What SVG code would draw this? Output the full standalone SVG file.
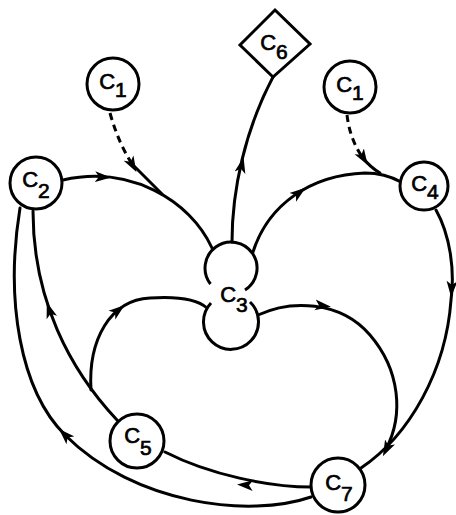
<svg xmlns="http://www.w3.org/2000/svg" width="456" height="515" viewBox="0 0 456 515">
<style>
.ln{fill:none;stroke:#000;stroke-width:3;stroke-linecap:round}
.dash{fill:none;stroke:#000;stroke-width:3;stroke-dasharray:7 5}
.ah{fill:none;stroke:none;marker-end:url(#arr)}
.nd{fill:#fff;stroke:#000;stroke-width:3}
.arc{fill:none;stroke:#000;stroke-width:3}
.lb{font-family:"Liberation Sans",Arial,sans-serif;font-size:22px;fill:#000;stroke:#000;stroke-width:0.7;text-anchor:middle}
.sub{font-size:21px}
</style>
<defs>
<marker id="arr" markerUnits="userSpaceOnUse" markerWidth="18" markerHeight="12" refX="9" refY="6" orient="auto">
<path d="M0 0.5 L16 6 L0 11.5 L4 6 Z" fill="#000"/>
</marker>
</defs>
<rect width="456" height="515" fill="#fff"/>
<g id="connectors">
<!-- C2 -> C3 -->
<path class="ln" d="M63 180 C130 165 190 200 212 248"/>
<path class="ah" d="M98 176.8 L104 177.1"/>
<!-- C1 (left) dashed -> merge -->
<path class="dash" d="M110 113 Q118 142 132 164"/>
<path class="ln" d="M132 164 L162 194"/>
<path class="ah" d="M128 157 L133 166"/>
<!-- C3 -> C6 -->
<path class="ln" d="M232 242 C232 190 245 130 273 77"/>
<path class="ah" d="M240.6 170 L242 164"/>
<!-- C3 -> C4 -->
<path class="ln" d="M253 252 C268 205 310 175 365 173 C380 173 392 177 401 182"/>
<path class="ah" d="M292 198 L300 192"/>
<!-- C1 (right) dashed -> merge -->
<path class="dash" d="M347 115 Q350 140 363 158"/>
<path class="ln" d="M363 158 Q370 167 380 173"/>
<path class="ah" d="M359 151 L364 159"/>
<!-- C4 -> C7 -->
<path class="ln" d="M436 210 C450 235 455 270 451 300 C446 370 410 435 361 468"/>
<path class="ah" d="M452 282 L451.5 290"/>
<!-- C3 -> C7 -->
<path class="ln" d="M258 315 C290 300 340 300 370 335 C400 370 404 415 386 449"/>
<path class="ah" d="M316 305 L324 306"/>
<path class="ah" d="M391 440 L386 450"/>
<!-- C7 -> C5 -->
<path class="ln" d="M311 487 C270 487 210 475 165 452"/>
<path class="ah" d="M252 485.5 L244 485"/>
<!-- C7 -> C2 (outer) -->
<path class="ln" d="M311 497 C250 518 135 505 65 435 C20 390 5 300 20 208"/>
<path class="ah" d="M70 440 L64 434"/>
<!-- C5 -> C2 (inner) -->
<path class="ln" d="M117 420 C70 370 33 300 33 211"/>
<path class="ah" d="M51 315 L49 309"/>
<!-- C5 branch -> C3 -->
<path class="ln" d="M91 390 C88 340 110 300 150 298 C180 296 198 300 207 308"/>
<path class="ah" d="M112 315 L119 309.5"/>
</g>
<g id="c1a">
<circle class="nd" cx="113" cy="84" r="26"/>
<text class="lb" x="113" y="89">C<tspan class="sub" dy="8">1</tspan></text>
</g>
<g id="c1b">
<circle class="nd" cx="350" cy="87" r="26"/>
<text class="lb" x="350" y="92">C<tspan class="sub" dy="8">1</tspan></text>
</g>
<g id="c2">
<circle class="nd" cx="36" cy="183" r="26"/>
<text class="lb" x="36" y="187">C<tspan class="sub" dy="11">2</tspan></text>
</g>
<g id="c6">
<polygon class="nd" points="275,10 310,44 273,77 240,45"/>
<text class="lb" x="274" y="50">C<tspan class="sub" dy="9">6</tspan></text>
</g>
<g id="c4">
<circle class="nd" cx="424" cy="186" r="24"/>
<text class="lb" x="425" y="191">C<tspan class="sub" dy="8">4</tspan></text>
</g>
<g id="c3">
<path class="arc" d="M210.5 284 A26 26 0 1 1 245 290"/>
<path class="arc" d="M250 302 A27.5 27.5 0 1 1 211 303"/>
<text class="lb" x="234" y="302">C<tspan class="sub" dy="10">3</tspan></text>
</g>
<g id="c5">
<circle class="nd" cx="137" cy="441" r="27"/>
<text class="lb" x="138" y="443">C<tspan class="sub" dy="12">5</tspan></text>
</g>
<g id="c7">
<circle class="nd" cx="338" cy="485" r="27"/>
<text class="lb" x="339" y="490">C<tspan class="sub" dy="11">7</tspan></text>
</g>
</svg>
